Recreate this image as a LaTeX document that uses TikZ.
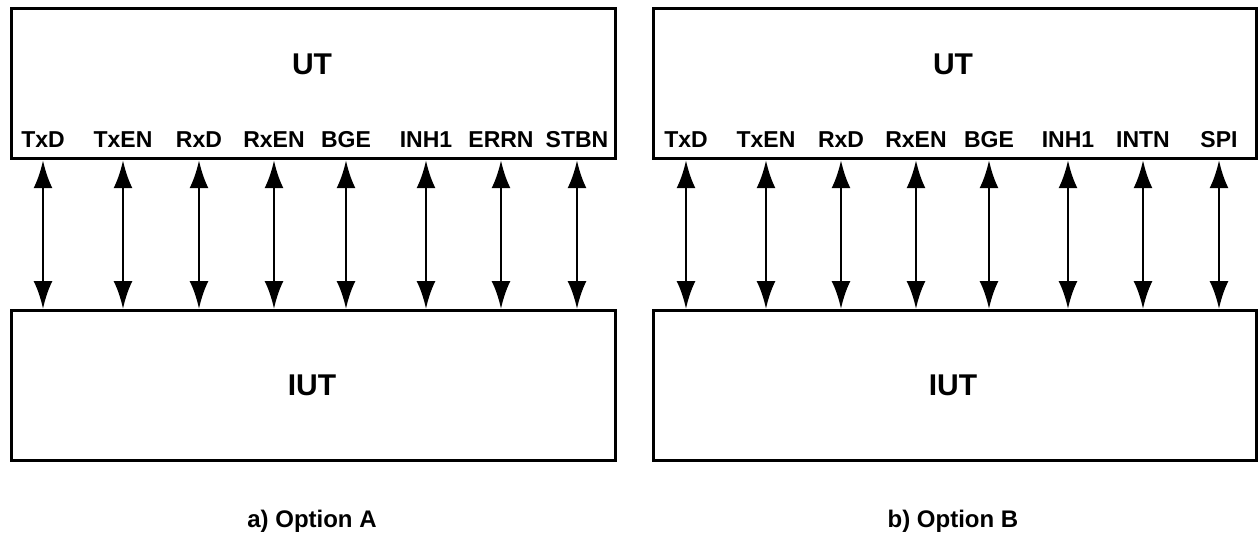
\documentclass[tikz,border=0pt]{standalone}
\usepackage{fontspec}
\setmainfont{Liberation Sans}
\usetikzlibrary{arrows.meta}
\begin{document}
\begin{tikzpicture}[x=1pt,y=-1pt,
  box/.style={draw, line width=3.2pt, inner sep=0pt, minimum width=604pt, minimum height=150pt, anchor=north west},
  big/.style={font=\fontsize{30}{30}\selectfont\bfseries},
  sig/.style={font=\fontsize{23}{23}\selectfont\bfseries, anchor=base, inner sep=0pt},
  captext/.style={font=\fontsize{24}{24}\selectfont\bfseries, anchor=base, inner sep=0pt},
  link/.style={line width=2.8pt, {Latex[length=28pt,width=19pt]}-{Latex[length=28pt,width=19pt]}}]
\useasboundingbox (0,0) rectangle (1259,536);
% left
\node[box] (utA) at (10,7) {};
\node[box] (iutA) at (10,309) {};
\node[big] (utAt) at (312,64) {UT};
\node[big] (iutAt) at (312,385) {IUT};
\node[captext] (capA) at (312,527) {a) Option A};
% right
\node[box, minimum width=603pt] (utB) at (652,7) {};
\node[box, minimum width=603pt] (iutB) at (652,309) {};
\node[big] (utBt) at (953,64) {UT};
\node[big] (iutBt) at (953,385) {IUT};
\node[captext] (capB) at (953,527) {b) Option B};
% signals
\foreach \dx/\lab [count=\i] in {33/TxD,113/TxEN,189/RxD,264/RxEN,336/BGE,416/INH1,491/ERRN,567/STBN}{
  \node[sig] (a\i) at (10+\dx,147) {\lab};
  \draw[link] (a\i |- utA.south) -- (a\i |- iutA.north);
}
\foreach \dx/\lab [count=\i] in {34/TxD,114/TxEN,189/RxD,264/RxEN,337/BGE,416/INH1,491/INTN,567/SPI}{
  \node[sig] (b\i) at (652+\dx,147) {\lab};
  \draw[link] (b\i |- utB.south) -- (b\i |- iutB.north);
}
\end{tikzpicture}
\end{document}
